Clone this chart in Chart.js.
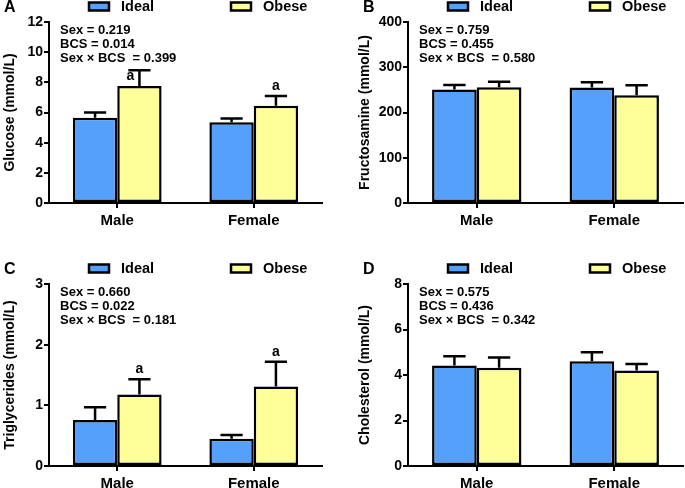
<!DOCTYPE html>
<html>
<head>
<meta charset="utf-8">
<script src="https://cdn.jsdelivr.net/npm/chart.js@4.4.0/dist/chart.umd.min.js"></script>
<style>
  body { margin: 0; background: #fff; width: 685px; height: 488px; position: relative; overflow: hidden; }
  canvas { position: absolute; }
</style>
</head>
<body>
<canvas id="panelA" width="342" height="244" style="left:0;top:0"></canvas>
<canvas id="panelB" width="343" height="244" style="left:342px;top:0"></canvas>
<canvas id="panelC" width="342" height="244" style="left:0;top:244px"></canvas>
<canvas id="panelD" width="343" height="244" style="left:342px;top:244px"></canvas>
<script>
const categories = ["Male", "Female"];
const seriesNames = ["Ideal", "Obese"];

// A - glucose
const glucoseIdeal = [5.65, 5.35];
const glucoseIdealSem = [0.35, 0.25];
const glucoseObese = [7.75, 6.45];
const glucoseObeseSem = [1.05, 0.65];
const glucoseObeseLetters = ["a", "a"];
const glucoseTicks = [0, 2, 4, 6, 8, 10, 12];
const glucoseStats = ["Sex = 0.219", "BCS = 0.014", "Sex \u00d7 BCS  = 0.399"];

// B - fructosamine
const fructIdeal = [251, 255];
const fructIdealSem = [10, 12];
const fructObese = [256, 238];
const fructObeseSem = [12, 22];
const fructObeseLetters = ["", ""];
const fructTicks = [0, 100, 200, 300, 400];
const fructStats = ["Sex = 0.759", "BCS = 0.455", "Sex \u00d7 BCS  = 0.580"];

// C - triglycerides
const trigIdeal = [0.76, 0.45];
const trigIdealSem = [0.21, 0.06];
const trigObese = [1.18, 1.31];
const trigObeseSem = [0.25, 0.41];
const trigObeseLetters = ["a", "a"];
const trigTicks = [0, 1, 2, 3];
const trigStats = ["Sex = 0.660", "BCS = 0.022", "Sex \u00d7 BCS  = 0.181"];

// D - cholesterol
const cholIdeal = [4.42, 4.6];
const cholIdealSem = [0.4, 0.4];
const cholObese = [4.32, 4.2];
const cholObeseSem = [0.45, 0.28];
const cholObeseLetters = ["", ""];
const cholTicks = [0, 2, 4, 6, 8];
const cholStats = ["Sex = 0.575", "BCS = 0.436", "Sex \u00d7 BCS  = 0.342"];

const colors = ["#55a0fa", "#ffff99"];
const FONT = "'Liberation Sans', Arial, sans-serif";

const panelExtras = {
  id: "panelExtras",
  afterDatasetsDraw(chart, args, opts) {
    const ctx = chart.ctx, area = chart.chartArea, y = chart.scales.y;
    ctx.save();
    ctx.strokeStyle = "#000";
    ctx.fillStyle = "#000";
    ctx.lineWidth = 2.5;
    // error bars (upper only) and significance letters
    chart.data.datasets.forEach((ds, di) => {
      chart.getDatasetMeta(di).data.forEach((bar, i) => {
        const top = y.getPixelForValue(ds.data[i] + ds.sem[i]);
        const half = bar.width / 4;
        ctx.beginPath();
        ctx.moveTo(bar.x, bar.y);
        ctx.lineTo(bar.x, top);
        ctx.moveTo(bar.x - half, top);
        ctx.lineTo(bar.x + half, top);
        ctx.stroke();
        const letter = ds.letters ? ds.letters[i] : "";
        if (letter) {
          const tuck = opts.tuck && opts.tuck[di] === i;
          ctx.font = "bold 14px " + FONT;
          ctx.textAlign = "center";
          ctx.textBaseline = "middle";
          if (tuck) ctx.fillText(letter, bar.x - 9, top + 6);
          else ctx.fillText(letter, bar.x, top - 10);
        }
      });
    });
    // stats text
    ctx.font = "bold 13px " + FONT;
    ctx.textAlign = "left";
    ctx.textBaseline = "middle";
    opts.stats.forEach((line, k) => ctx.fillText(line, area.left + 11, area.top + 8.5 + k * 14));
    // legend
    const ly = area.top - 15.5;
    chart.data.datasets.forEach((ds, di) => {
      const bx = area.left + 40 + di * 142;
      ctx.fillStyle = ds.backgroundColor;
      ctx.fillRect(bx, ly - 4, 20, 8);
      ctx.lineWidth = 2.5;
      ctx.strokeRect(bx, ly - 4, 20, 8);
      ctx.fillStyle = "#000";
      ctx.font = "bold 14.5px " + FONT;
      ctx.fillText(ds.label, bx + 32, ly);
    });
    // panel letter
    ctx.font = "bold 16px " + FONT;
    ctx.fillText(opts.letter, area.left - 45, area.top - 14);
    ctx.restore();
  }
};

function makePanel(id, p) {
  const leftCol = p.col === 0;
  const padLeft = leftCol ? 0 : 13;
  const chartLeft = leftCol ? 49 : 66;
  const padRight = leftCol ? 20 : 2;
  const top = p.row === 0 ? 22 : 40;
  const bottom = p.row === 0 ? 203 : 222;
  new Chart(document.getElementById(id), {
    type: "bar",
    data: {
      labels: categories,
      datasets: [
        { label: seriesNames[0], data: p.ideal, sem: p.idealSem, backgroundColor: colors[0] },
        { label: seriesNames[1], data: p.obese, sem: p.obeseSem, letters: p.letters, backgroundColor: colors[1] }
      ]
    },
    options: {
      responsive: false,
      animation: false,
      layout: { padding: { left: padLeft, right: padRight, top: top, bottom: 0 } },
      datasets: {
        bar: { borderColor: "#000", borderWidth: 2.5, borderSkipped: false, barPercentage: 1, categoryPercentage: 0.65 }
      },
      plugins: {
        legend: { display: false },
        tooltip: { enabled: false },
        panelExtras: { stats: p.stats, letter: p.letter, tuck: p.tuck }
      },
      scales: {
        x: {
          grid: { offset: false, drawOnChartArea: false, drawTicks: true, tickLength: 5, color: "#000", lineWidth: 2 },
          border: { color: "#000", width: 2 },
          ticks: { color: "#000", font: { family: FONT, weight: "bold", size: 15 }, padding: 4 },
          afterFit: (s) => { s.height = 244 - bottom; }
        },
        y: {
          min: p.ticks[0],
          max: p.ticks[p.ticks.length - 1],
          ticks: { stepSize: p.ticks[1] - p.ticks[0], color: "#000", font: { family: FONT, weight: "bold", size: 14 }, padding: 1 },
          grid: { drawOnChartArea: false, color: "#000", lineWidth: 2, tickLength: 5 },
          border: { color: "#000", width: 2 },
          title: { display: true, text: p.title, color: "#000", font: { family: FONT, weight: "bold", size: 14 }, padding: { top: 1.6, bottom: 0 } },
          afterFit: (s) => { s.width = chartLeft - padLeft; }
        }
      }
    },
    plugins: [panelExtras]
  });
}

makePanel("panelA", { col: 0, row: 0, letter: "A", title: "Glucose (mmol/L)", ideal: glucoseIdeal, idealSem: glucoseIdealSem, obese: glucoseObese, obeseSem: glucoseObeseSem, letters: glucoseObeseLetters, ticks: glucoseTicks, stats: glucoseStats, tuck: [null, 0] });
makePanel("panelB", { col: 1, row: 0, letter: "B", title: "Fructosamine (mmol/L)", ideal: fructIdeal, idealSem: fructIdealSem, obese: fructObese, obeseSem: fructObeseSem, letters: fructObeseLetters, ticks: fructTicks, stats: fructStats });
makePanel("panelC", { col: 0, row: 1, letter: "C", title: "Triglycerides (mmol/L)", ideal: trigIdeal, idealSem: trigIdealSem, obese: trigObese, obeseSem: trigObeseSem, letters: trigObeseLetters, ticks: trigTicks, stats: trigStats });
makePanel("panelD", { col: 1, row: 1, letter: "D", title: "Cholesterol (mmol/L)", ideal: cholIdeal, idealSem: cholIdealSem, obese: cholObese, obeseSem: cholObeseSem, letters: cholObeseLetters, ticks: cholTicks, stats: cholStats });
</script>
</body>
</html>
